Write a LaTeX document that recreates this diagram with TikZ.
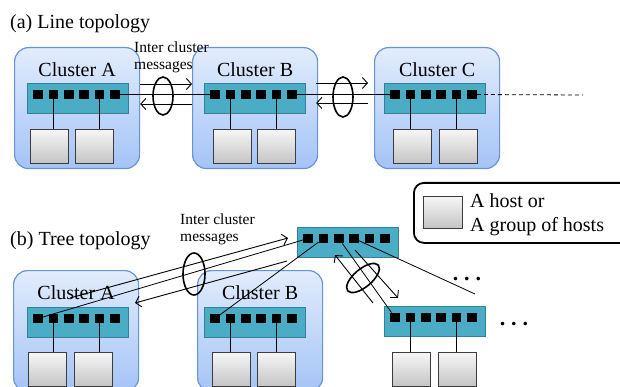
\documentclass[tikz,border=0pt]{standalone}
\usepackage{fontspec}
\setmainfont{Liberation Serif}
\usetikzlibrary{calc,arrows.meta}

\definecolor{clusterTop}{RGB}{226,236,252}
\definecolor{clusterBottom}{RGB}{164,196,246}
\definecolor{clusterEdge}{RGB}{104,148,212}
\definecolor{switchFill}{RGB}{75,172,198}
\definecolor{switchEdge}{RGB}{52,128,150}
\definecolor{hostTop}{RGB}{246,246,246}
\definecolor{hostBottom}{RGB}{196,196,196}
\definecolor{hostEdge}{RGB}{60,60,60}

\tikzset{
  cluster/.style={draw=clusterEdge, line width=1.2pt, rounded corners=14pt,
    top color=clusterTop, bottom color=clusterBottom,
    minimum width=125, minimum height=121, anchor=north west, inner sep=0pt},
  switchbox/.style={draw=switchEdge, line width=1.2pt, fill=switchFill,
    minimum width=101, minimum height=30, anchor=north west, inner sep=0pt},
  port/.style={fill=black, minimum size=9.5, inner sep=0pt},
  host/.style={draw=hostEdge, line width=1pt, top color=hostTop, bottom color=hostBottom,
    minimum width=38, minimum height=34, anchor=north west, inner sep=0pt},
  link/.style={line width=0.8pt},
  msg/.style={line width=0.9pt, -{Straight Barb[length=5pt,width=11pt]}},
  bundle/.style={line width=1.6pt},
  big/.style={font=\fontsize{20}{24}\selectfont, inner sep=0pt},
  small/.style={font=\fontsize{15.5}{17}\selectfont, align=left, inner sep=0pt},
}

% six ports on a switch
\newcommand{\switchports}[1]{%
  \foreach \i in {1,...,6}
    \node[port] (#1-p\i) at ($(#1.north west)+({11+15.4*(\i-1)},11.5)$) {};
}

\begin{document}
\begin{tikzpicture}[x=1pt,y=-1pt]
    \useasboundingbox (0,0) rectangle (620,387);
    \clip (0,0) rectangle (620,387);

    % (a) Line topology
    \node[big, anchor=base west] (titleA) at (10,29) {(a) Line topology};
    \node[cluster] (cA) at (14,47) {};
    \node[cluster] (cB) at (192,47) {};
    \node[cluster] (cC) at (374,47) {};
    \node[big, anchor=base] (labA) at ($(cA.north)+(0,30)$) {Cluster A};
    \node[big, anchor=base] (labB) at ($(cB.north)+(0,30)$) {Cluster B};
    \node[big, anchor=base] (labC) at ($(cC.north)+(0,30)$) {Cluster C};
    \node[switchbox] (sA) at (27,83) {};
    \node[switchbox] (sB) at (204,83) {};
    \node[switchbox] (sC) at (384,83) {};
    \switchports{sA}
    \switchports{sB}
    \switchports{sC}
    \node[host] (hA1) at (30,129) {};
    \node[host] (hA2) at (75,129) {};
    \node[host] (hB1) at (213,129) {};
    \node[host] (hB2) at (257,129) {};
    \node[host] (hC1) at (393,129) {};
    \node[host] (hC2) at (439,129) {};
    \foreach \s/\h in {sA/hA, sB/hB, sC/hC} {
        \draw[link] (\s-p2) -- (\s-p2 |- \h1.north);
        \draw[link] (\s-p5) -- (\s-p5 |- \h2.north);
    }
    % links between the clusters
    \coordinate (tailC) at (583,95);
    \draw[link] (sA-p6) -- (sB-p1);
    \draw[link] (sB-p6) -- (sC-p1);
    \draw[link, dashed, dash pattern=on 4pt off 3pt] (sC-p6) -- (tailC);
    % messages
    \draw[msg] (cA.east |- 0,84) -- (cB.west |- 0,84);
    \draw[msg] (cB.west |- 0,104) -- (cA.east |- 0,104);
    \draw[msg] ([xshift=-2]cB.east |- 0,83) -- ([xshift=-6]cC.west |- 0,83);
    \draw[msg] ([xshift=-6]cC.west |- 0,103) -- ([xshift=-2]cB.east |- 0,103);
    \draw[bundle] (163,96) ellipse (10 and 19);
    \draw[bundle] (343,97) ellipse (10 and 20);
    \node[small, anchor=north west] (msgA) at (134,42) {Inter cluster\\messages};

    % (b) Tree topology
    \node[big, anchor=base west] (titleB) at (10,245) {(b) Tree topology};
    \node[cluster] (cbA) at (13,270) {};
    \node[cluster] (cbB) at (197,270) {};
    \node[big, anchor=base] (labbA) at ($(cbA.north)+(0,29)$) {Cluster A};
    \node[big, anchor=base] (labbB) at ($(cbB.north)+(0,29)$) {Cluster B};
    \node[switchbox] (sR) at (297,227) {};
    \node[switchbox] (sbA) at (27,307) {};
    \node[switchbox] (sbB) at (204,307) {};
    \node[switchbox] (sbR) at (384,306) {};
    \switchports{sR}
    \switchports{sbA}
    \switchports{sbB}
    \switchports{sbR}
    \node[host] (hbA1) at (28,352) {};
    \node[host] (hbA2) at (74,352) {};
    \node[host] (hbB1) at (212,352) {};
    \node[host] (hbB2) at (257,352) {};
    \node[host] (hbR1) at (392,352) {};
    \node[host] (hbR2) at (438,352) {};
    \foreach \s/\h in {sbA/hbA, sbB/hbB, sbR/hbR} {
        \draw[link] (\s-p2) -- (\s-p2 |- \h1.north);
        \draw[link] (\s-p5) -- (\s-p5 |- \h2.north);
    }
    % links to the root switch
    \coordinate (tailR) at (475,294);
    \draw[link] (sR-p1) -- (sbA-p1);
    \draw[link] (sR-p2) -- (sbB-p1);
    \draw[link] (sR-p3) -- (sbR-p1);
    \draw[link] (sR-p4) -- (tailR);
    % messages
    \coordinate (upA0) at (70,298);
    \coordinate (upA1) at (288,238);
    \coordinate (dnA0) at (287,261);
    \coordinate (dnA1) at (135,303);
    \coordinate (upR0) at (373,303);
    \coordinate (upR1) at (335,255);
    \coordinate (dnR0) at (355,250);
    \coordinate (dnR1) at (398,298);
    \draw[msg] (upA0) -- (upA1);
    \draw[msg] (dnA0) -- (dnA1);
    \draw[msg] (upR0) -- (upR1);
    \draw[msg] (dnR0) -- (dnR1);
    \draw[bundle] (194,274) ellipse (11 and 21);
    \draw[bundle, rotate around={40:(363,278)}] (363,278) ellipse (20 and 9);
    \node[small, anchor=north west] (msgB) at (180,214) {Inter cluster\\messages};
    \node[big, anchor=base, font=\fontsize{22}{24}\selectfont\bfseries] (dotsUp) at (467,280) {.\hspace{6pt}.\hspace{6pt}.};
    \node[big, anchor=base, font=\fontsize{22}{24}\selectfont\bfseries] (dotsDn) at (514,325) {.\hspace{6pt}.\hspace{6pt}.};

    % legend
    \node[draw, line width=1.8pt, rounded corners=10pt, minimum width=240,
        minimum height=60, anchor=north west, inner sep=0pt] (legend) at (413,182) {};
    \node[host, minimum width=39, minimum height=32] (hLegend) at (423,196) {};
    \node[big, align=left, anchor=north west] (legText) at (470,193) {A host or\\A group of hosts};
\end{tikzpicture}
\end{document}
